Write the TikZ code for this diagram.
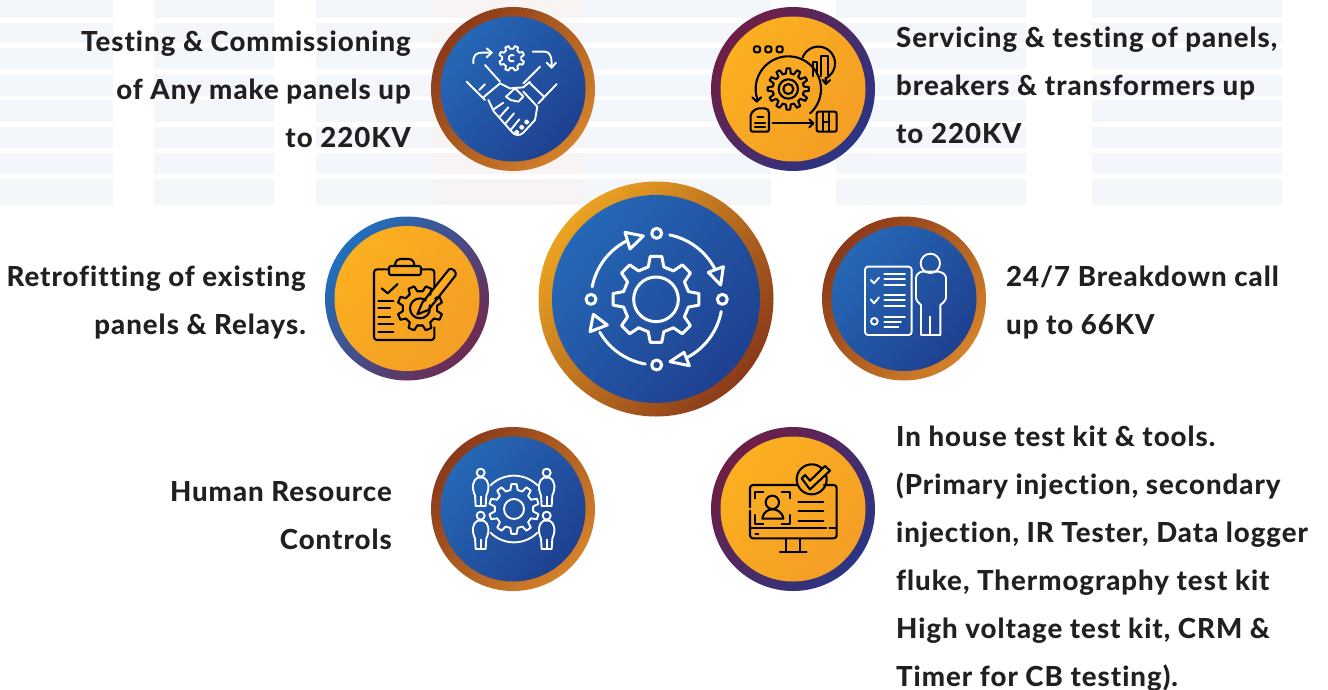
\documentclass[tikz,border=0pt]{standalone}
\usepackage{fontspec}
\setmainfont{Lato}[BoldFont={Lato Heavy},LetterSpace=3.6,Ligatures=NoCommon]
\definecolor{ink}{HTML}{231F20}
\definecolor{stripeb}{HTML}{F3F7FC}
\definecolor{stripep}{HTML}{F8F4F3}
\definecolor{brownA}{HTML}{8A3A1A}
\definecolor{brownB}{HTML}{D4822A}
\definecolor{goldA}{HTML}{EBA322}
\definecolor{plumA}{HTML}{6E1F45}
\definecolor{plumB}{HTML}{2B3585}
\definecolor{blueA}{HTML}{2070BD}
\definecolor{plumC}{HTML}{6E2A50}
\definecolor{coreA}{HTML}{2568B6}
\definecolor{coreM}{HTML}{164BA2}
\definecolor{coreB}{HTML}{1F4090}
\definecolor{sunA}{HTML}{FBAF20}
\definecolor{sunB}{HTML}{F49E25}
\newcommand\gearicon[7]{%
  \draw[#7] ({#1+#4*cos(#6-0.3*360/#5)},{#2+#4*sin(#6-0.3*360/#5)})
  \foreach \i in {1,...,#5}{
    -- ({#1+#3*cos(#6+(\i-1)*360/#5-0.17*360/#5)},{#2+#3*sin(#6+(\i-1)*360/#5-0.17*360/#5)})
    -- ({#1+#3*cos(#6+(\i-1)*360/#5+0.17*360/#5)},{#2+#3*sin(#6+(\i-1)*360/#5+0.17*360/#5)})
    -- ({#1+#4*cos(#6+(\i-1)*360/#5+0.3*360/#5)},{#2+#4*sin(#6+(\i-1)*360/#5+0.3*360/#5)})
    -- ({#1+#4*cos(#6+\i*360/#5-0.3*360/#5)},{#2+#4*sin(#6+\i*360/#5-0.3*360/#5)})
  } -- cycle;}
\newcommand\arcline[6]{\draw[#1] plot[domain=#5:#6,samples=50] ({#2+#4*cos(\x)},{#3+#4*sin(\x)});}
\newcommand\personicon[2]{%
  \draw[whiteline] (#1,#2) circle[radius=12];
  \draw[whiteline] (#1-9,#2+15) .. controls (#1-24,#2+22) and (#1-28,#2+45) .. (#1-17,#2+68)
     -- (#1-15,#2+100) -- (#1+15,#2+100) -- (#1+17,#2+68)
     .. controls (#1+28,#2+45) and (#1+24,#2+22) .. (#1+9,#2+15) -- cycle;
  \draw[whiteline] (#1,#2+72) -- (#1,#2+100);}
\tikzset{
  bigtext/.style={inner sep=0pt,text=ink,font=\fontsize{27.6}{48}\selectfont\bfseries},
  ring/.style={circle,inner sep=0pt,minimum size=164pt},
  disc/.style={circle,inner sep=0pt,minimum size=145pt},
  ringbrown/.style={ring,top color=brownA,bottom color=brownB,shading angle=50},
  ringplum/.style={ring,top color=plumA,bottom color=plumB,shading angle=50},
  ringblue/.style={ring,top color=blueA,bottom color=plumC,shading angle=50},
  discblue/.style={disc,top color=coreA,middle color=coreM,bottom color=coreB,shading angle=50},
  discsun/.style={disc,top color=sunA,bottom color=sunB,shading angle=50},
  whiteline/.style={draw=white,line width=1.9pt,line cap=round,line join=round},
  blackline/.style={draw=black,line width=2.1pt,line cap=round,line join=round},
  zoomed/.style={x=0.33333pt,y=-0.33333pt},
}
\begin{document}
\begin{tikzpicture}[x=1pt,y=-1pt]
\useasboundingbox (0,0) rectangle (1328,689);
% background stripes
\foreach \ya/\yb in {0/17.5,22.5/43,48/69,74.5/96,100/122,126.5/148,152.5/174,179/205}{
  \foreach \xa/\xb in {0/113,154/274,316/771,836/1026,1092/1282}{
    \fill[stripeb] (\xa,\ya) rectangle (\xb,\yb);
  }
  \fill[stripep] (433,\ya) rectangle (583,\yb);
}
% discs
\node[ringbrown] (ringTL) at (513,89) {};
\node[discblue] (discTL) at (513,89) {};
\node[ringplum] (ringTR) at (793,89) {};
\node[discsun] (discTR) at (793,89) {};
\node[ringblue] (ringL) at (407,298.5) {};
\node[discsun] (discL) at (407,298.5) {};
\node[ringbrown] (ringR) at (904,298.5) {};
\node[discblue] (discR) at (904,298.5) {};
\node[ringbrown] (ringBL) at (513,509) {};
\node[discblue] (discBL) at (513,509) {};
\node[ringplum] (ringBR) at (793,509) {};
\node[discsun] (discBR) at (793,509) {};
\node[circle,inner sep=0pt,minimum size=235pt,top color=goldA,bottom color=brownA,shading angle=50] (ringC) at (656,299) {};
\node[circle,inner sep=0pt,minimum size=208pt,top color=coreA,middle color=coreM,bottom color=coreB,shading angle=50] (discC) at (656,299) {};
% centre icon
\begin{scope}[shift={(530,175)},zoomed]
  \tikzset{whiteline/.append style={line width=3pt}}
  \gearicon{378}{373}{130}{100}{8}{0}{whiteline}
  \draw[whiteline] (378,373) circle[radius=67];
  \draw[whiteline] (380,175) circle[radius=15];
  \draw[whiteline] (577,373) circle[radius=15];
  \draw[whiteline] (380,570) circle[radius=15];
  \draw[whiteline] (183,373) circle[radius=15];
  \arcline{whiteline}{380}{373}{197}{191}{243}
  \arcline{whiteline}{380}{373}{197}{281.5}{333}
  \arcline{whiteline}{380}{373}{197}{10.6}{62}
  \arcline{whiteline}{380}{373}{197}{100}{150}
  \draw[whiteline] (285,172) -- (340,183) -- (300,222) -- cycle;
  \draw[whiteline] (535,292) -- (580,275) -- (572,330) -- cycle;
  \draw[whiteline] (420,560) -- (462,532) -- (478,572) -- cycle;
  \draw[whiteline] (180,470) -- (190,418) -- (232,450) -- cycle;
\end{scope}
% top-left icon: handshake
\begin{scope}[shift={(420,0)},zoomed]
  \draw[whiteline] (160,190) .. controls (158,165) and (170,158) .. (185,158) -- (215,158);
  \draw[whiteline] (200,145) -- (215,158) -- (200,172);
  \draw[whiteline] (338,155) -- (375,155) .. controls (390,155) and (396,170) .. (395,203);
  \draw[whiteline] (380,188) -- (395,203) -- (408,188);
  \gearicon{275}{175}{38}{29}{8}{22.5}{whiteline}
  \draw[whiteline] (281,166) arc[start angle=300,end angle=60,radius=10];
  \draw[whiteline] (195,195) -- (240,245);
  \draw[whiteline] (140,245) -- (195,300);
  \draw[whiteline] (178,270) -- (195,253);
  \draw[whiteline] (190,292) -- (240,250) -- (270,265) -- (310,262) -- (330,245);
  \draw[whiteline] (360,200) -- (310,250);
  \draw[whiteline] (410,252) -- (355,310);
  \draw[whiteline] (330,250) -- (372,290);
  \draw[whiteline] (258,290) -- (285,265) -- (310,290) -- (295,305) -- (272,300) -- cycle;
  \draw[whiteline] (205,300) -- (222,335) -- (275,395) .. controls (285,408) and (300,408) .. (310,398) -- (345,360) -- (352,320) -- (310,275);
  \draw[whiteline] (218,330) -- (250,308);
  \draw[whiteline] (238,352) -- (265,322);
  \draw[whiteline] (255,372) -- (282,340);
  \draw[whiteline] (272,390) -- (298,358);
  \draw[whiteline] (290,397) circle[radius=5];
  \draw[whiteline] (305,382) circle[radius=5];
  \draw[whiteline] (320,366) circle[radius=5];
\end{scope}
% top-right icon: process
\begin{scope}[shift={(700,0)},zoomed]
  \draw[blackline,rounded corners=2pt] (162,139) rectangle (180,157);
  \draw[blackline,rounded corners=2pt] (196,139) rectangle (214,157);
  \draw[blackline,rounded corners=2pt] (230,139) rectangle (248,157);
  \arcline{blackline}{265}{267}{98}{162}{408}
  \draw[blackline] (170,298) -- (170,305);
  \draw[blackline] (157,292) -- (170,305) -- (183,292);
  \arcline{blackline}{355}{190}{50}{201}{425}
  \draw[blackline] (377,235) -- (378,252);
  \draw[blackline] (368,240) -- (378,252) -- (390,240);
  \draw[blackline] (338,228) -- (338,185) -- (352,185) -- (352,222);
  \draw[blackline] (364,228) -- (364,167) -- (385,167) -- (385,225);
  \gearicon{265}{267}{62}{47}{12}{0}{blackline}
  \draw[blackline] (265,267) circle[radius=29];
  \draw[blackline] (265,267) circle[radius=15];
  \draw[blackline,rounded corners=2pt] (170,325) -- (200,325) -- (207,332) -- (207,395) -- (152,395) -- (152,340) -- cycle;
  \draw[blackline] (172,352) -- (190,352);
  \draw[blackline] (165,368) -- (195,368);
  \draw[blackline] (165,380) -- (195,380);
  \draw[blackline] (218,370) -- (340,370);
  \draw[blackline] (328,358) -- (340,370) -- (328,382);
  \draw[blackline,rounded corners=2pt] (350,335) rectangle (410,395);
  \draw[blackline] (370,335) -- (370,395);
  \draw[blackline] (388,335) -- (388,395);
  \draw[blackline] (370,365) -- (388,365);
\end{scope}
% left icon: clipboard
\begin{scope}[shift={(315,210)},zoomed]
  \draw[blackline,rounded corners=3pt] (222,178) -- (177,178) -- (177,390) -- (358,390) -- (358,352);
  \draw[blackline,rounded corners=3pt] (318,178) -- (358,178) -- (358,232);
  \draw[blackline,rounded corners=2pt] (222,168) rectangle (318,195);
  \draw[blackline] (240,167) .. controls (240,150) and (250,147) .. (260,147) -- (280,147) .. controls (292,147) and (298,155) .. (298,167);
  \draw[blackline] (200,235) -- (218,250) -- (248,222);
  \draw[blackline] (190,272) -- (235,272);
  \draw[blackline] (190,295) -- (225,295);
  \draw[blackline] (190,320) -- (225,320);
  \draw[blackline] (190,343) -- (235,343);
  \draw[blackline] (190,367) -- (235,367);
  \gearicon{315}{295}{68}{52}{8}{22.5}{blackline}
  \draw[blackline] (315,295) circle[radius=30];
  \draw[blackline] (307,313) -- (322,278) -- (402,178) .. controls (410,172) and (426,184) .. (422,196) -- (340,300) -- cycle;
  \fill[sunA] (322,288) -- (404,186) -- (414,194) -- (336,292) -- cycle;
\end{scope}
% right icon: checklist and person
\begin{scope}[shift={(815,210)},zoomed]
  \draw[whiteline,rounded corners=3pt] (150,170) rectangle (290,375);
  \draw[whiteline] (167,210) -- (177,220) -- (192,203);
  \draw[whiteline] (167,268) -- (177,280) -- (192,262);
  \draw[whiteline] (178,334) circle[radius=10];
  \draw[whiteline] (208,192) -- (270,192);
  \draw[whiteline] (208,208) -- (270,208);
  \draw[whiteline] (208,225) -- (270,225);
  \draw[whiteline] (208,255) -- (270,255);
  \draw[whiteline] (208,270) -- (270,270);
  \draw[whiteline] (208,287) -- (270,287);
  \draw[whiteline] (208,320) -- (270,320);
  \draw[whiteline] (208,335) -- (258,335);
  \draw[whiteline] (208,350) -- (250,350);
  \draw[whiteline] (346,160) circle[radius=29];
  \draw[whiteline] (320,185) -- (372,185) .. controls (385,188) and (393,195) .. (393,205) -- (393,262) .. controls (393,272) and (382,280) .. (376,285) -- (376,375) -- (318,375) -- (318,285) .. controls (312,280) and (303,272) .. (303,262) -- (303,205) .. controls (303,195) and (310,188) .. (320,185) -- cycle;
  \draw[whiteline] (346,320) -- (346,375);
\end{scope}
% bottom-left icon: people and gear
\begin{scope}[shift={(420,420)},zoomed]
  \gearicon{282}{267}{75}{58}{10}{18}{whiteline}
  \draw[whiteline] (282,267) circle[radius=30];
  \arcline{whiteline}{282}{267}{100}{225}{315}
  \arcline{whiteline}{282}{267}{100}{45}{135}
  \personicon{182}{158}
  \personicon{380}{158}
  \personicon{182}{287}
  \personicon{380}{287}
\end{scope}
% bottom-right icon: monitor
\begin{scope}[shift={(700,420)},zoomed]
  \draw[blackline,rounded corners=3pt] (290,195) -- (150,195) -- (150,262);
  \draw[blackline,rounded corners=3pt] (150,272) -- (150,355) -- (410,355) -- (410,195) -- (372,195);
  \draw[blackline] (150,325) -- (378,325);
  \draw[blackline] (388,325) -- (410,325);
  \draw[blackline] (166,342) -- (175,342);
  \draw[blackline] (258,355) -- (258,393);
  \draw[blackline] (300,355) -- (300,393);
  \draw[blackline] (240,395) -- (320,395);
  \draw[blackline] (165,235) -- (165,215) -- (190,215);
  \draw[blackline] (245,215) -- (270,215) -- (270,235);
  \draw[blackline] (270,285) -- (270,312) -- (245,312);
  \draw[blackline] (165,285) -- (165,312) -- (190,312);
  \draw[blackline] (217,247) circle[radius=20];
  \draw[blackline] (187,296) .. controls (190,275) and (205,268) .. (217,268) .. controls (230,268) and (247,275) .. (250,296) -- cycle;
  \draw[blackline] (295,245) -- (370,245);
  \draw[blackline] (295,273) -- (370,273);
  \draw[blackline] (295,302) -- (370,302);
  \draw[blackline] (335,178) circle[radius=45];
  \draw[blackline,fill=sunA] (305,175) -- (315,165) -- (330,182) -- (375,138) -- (390,152) -- (330,208) -- cycle;
\end{scope}
% labels
\node[bigtext,anchor=north east,align=right] (textTL) at (411,17.4) {\strut Testing \& Commissioning\\of Any make panels up\\to 220KV};
\node[bigtext,anchor=north west,align=left] (textTR) at (896,13.4) {\strut Servicing \& testing of panels,\\breakers \& transformers up\\to 220KV};
\node[bigtext,anchor=north east,align=right] (textL) at (306,252.7) {\strut Retrofitting of existing\\panels \& Relays.};
\node[bigtext,anchor=north west,align=left] (textR) at (1006,252.7) {\strut 24/7 Breakdown call\\up to 66KV};
\node[bigtext,anchor=north east,align=right] (textBL) at (392,467.4) {\strut Human Resource\\Controls};
\node[bigtext,anchor=north west,align=left] (textBR) at (896,412.2) {\strut In house test kit \& tools.\\(Primary injection, secondary\\injection, IR Tester, Data logger\\fluke, Thermography test kit\\High voltage test kit, CRM \&\\Timer for CB testing).};
\end{tikzpicture}
\end{document}
